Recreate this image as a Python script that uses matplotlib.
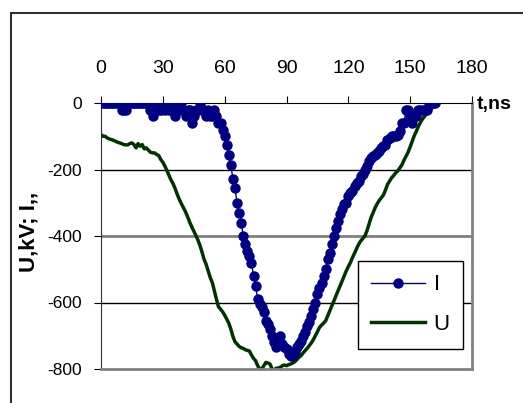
import numpy as np
import matplotlib
matplotlib.use("Agg")
import matplotlib.pyplot as plt
from matplotlib.patches import Rectangle

plt.rcParams['font.family'] = ['Liberation Sans', 'DejaVu Sans']
plt.rcParams['axes.unicode_minus'] = False

# current I (1 ns step), t = 0..162
I_vals = [0, 0, 0, 0, 0, 0, 0, 0, 0, 0,
          -20, -20, -20, 0, 0, 0, 0, 0, 0, 0,
          0, 0, 0, 0, -20, -40, -20, 0, -20, -20,
          0, -20, 0, -20, -20, 0, -40, -20, -20, 0,
          -20, -40, -20, -20, -60, -40, -20, -20, 0, -20,
          -20, -40, -20, -40, -40, -20, -40, -60, -60, -80,
          -100, -125, -155, -185, -230, -255, -300, -330, -360, -400,
          -425, -445, -460, -480, -520, -550, -590, -605, -615, -630,
          -655, -665, -680, -700, -720, -735, -720, -700, -725, -735,
          -740, -755, -760, -758, -750, -735, -725, -715, -700, -690,
          -672, -660, -642, -620, -600, -575, -555, -540, -520, -498,
          -470, -450, -425, -400, -375, -355, -335, -320, -305, -300,
          -280, -270, -265, -250, -240, -235, -220, -215, -200, -190,
          -175, -165, -160, -155, -150, -145, -135, -130, -125, -110,
          -105, -100, -100, -100, -95, -85, -60, -60, -20, -20,
          -40, -60, -40, -40, -20, -20, -20, -20, -20, -5,
          0, 0, 0]
t_I = np.arange(len(I_vals))

# voltage U (1 ns step), t = 0..164
U_vals = [-95, -100, -100, -105, -108, -110, -112, -115, -118, -120,
          -122, -125, -126, -126, -122, -120, -125, -135, -122, -130,
          -125, -138, -135, -142, -148, -150, -150, -155, -158, -170,
          -178, -190, -203, -218, -232, -243, -258, -275, -290, -303,
          -315, -327, -342, -358, -372, -385, -398, -412, -428, -448,
          -470, -485, -505, -525, -540, -565, -590, -613, -620, -628,
          -638, -650, -662, -680, -702, -718, -725, -732, -736, -738,
          -742, -744, -746, -758, -768, -775, -790, -800, -800, -790,
          -780, -782, -785, -800, -802, -798, -797, -795, -790, -788,
          -790, -787, -785, -782, -778, -772, -765, -760, -752, -745,
          -738, -730, -722, -712, -700, -688, -675, -668, -662, -655,
          -640, -625, -610, -595, -580, -565, -550, -535, -520, -505,
          -492, -480, -465, -452, -438, -425, -415, -408, -400, -385,
          -365, -345, -330, -315, -303, -293, -285, -277, -262, -245,
          -235, -225, -218, -210, -204, -195, -186, -172, -160, -148,
          -132, -115, -98, -85, -70, -58, -48, -40, -32, -25,
          -18, -12, -8, -3, 0]
t_U = np.arange(len(U_vals))

x_ticks = [0, 30, 60, 90, 120, 150, 180]
y_ticks = [0, -200, -400, -600, -800]

fig = plt.figure(figsize=(5.23, 4.03), dpi=100)
ax = fig.add_axes([101/523, 1 - 369/403, 371/523, 266/403])

# grid lines
for yv, c, lw in [(-200, 'black', 1.0), (-400, '#808080', 2.0), (-600, 'black', 1.0)]:
    ax.axhline(yv, color=c, lw=lw, zorder=1)

ax.plot(t_I, I_vals, color='#000080', lw=1.0, marker='o', markersize=6.5,
        label='I', zorder=3)
ax.plot(t_U, U_vals, color='#003300', lw=2.5, label='U', zorder=2)

ax.set_xlim(0, 180)
ax.set_ylim(-800, 0)
ax.set_xticks(x_ticks)
ax.set_yticks(y_ticks)
ax.xaxis.tick_top()
ax.tick_params(axis='x', direction='out', length=5, pad=14, labelsize=14, color='black')
ax.tick_params(axis='y', direction='out', length=5, pad=9, labelsize=12.5, color='black')

ax.spines['top'].set_color('black')
ax.spines['left'].set_color('#303030')
ax.spines['right'].set_color('#808080')
ax.spines['bottom'].set_color('#808080')
ax.spines['right'].set_linewidth(2)
ax.spines['bottom'].set_linewidth(2)

leg = ax.legend(loc='upper left', bbox_to_anchor=(0.693, 0.406), fontsize=16,
                handlelength=2.4, fancybox=False, edgecolor='black',
                framealpha=1, borderpad=0.6, labelspacing=0.85,
                handletextpad=0.4, borderaxespad=0)
leg.get_frame().set_linewidth(1.0)

fig.text(477/523, 1 - 105/403, 't,ns', ha='left', va='center',
         fontsize=14, fontweight='bold')
fig.text(29/523, 1 - 232/403, 'U,kV; I,,', rotation=90, ha='center',
         va='center', fontsize=16, fontweight='bold')

# outer chart frame
fig.patches.append(Rectangle((11/523, -0.1), 2.0, 1.1 - 13/403,
                             transform=fig.transFigure, fill=False,
                             edgecolor='#303030', lw=1.5))

fig.savefig('out.png', dpi=100)
